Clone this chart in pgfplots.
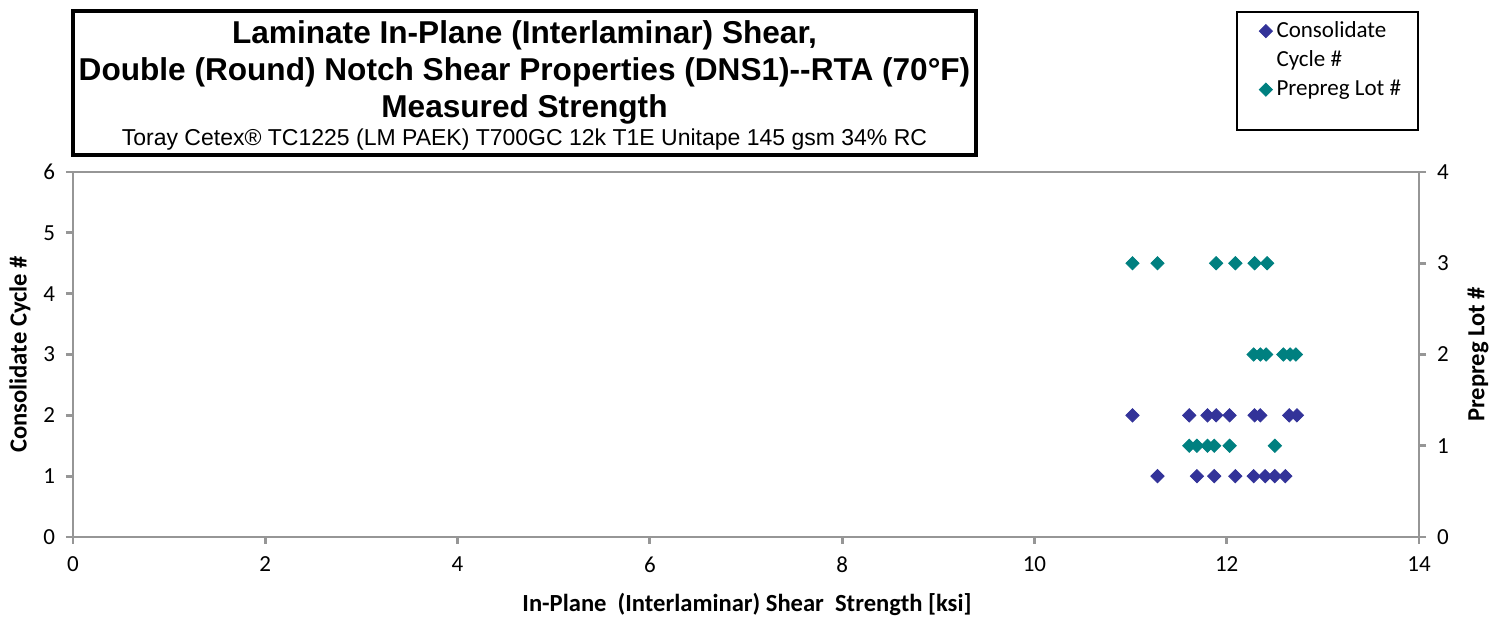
\documentclass[border=0pt]{standalone}
\usepackage{pgfplots}
\pgfplotsset{compat=1.18}
\usepackage{fontspec}
\setmainfont{Carlito}
\newfontfamily\titlefont{Liberation Sans}
\definecolor{cblue}{RGB}{51,51,153}
\definecolor{cteal}{RGB}{0,128,128}
\definecolor{axgray}{RGB}{150,150,150}
\begin{document}
\begin{tikzpicture}
\begin{scope}[shift={(-36.5pt,268.5pt)}, x=0.5pt, y=-0.5pt]
  \useasboundingbox (0,0) rectangle (1496,626);
  \draw[line width=2pt, black] (73,11) rectangle (976,155);
  \node[anchor=base, inner sep=0pt, font=\titlefont\bfseries\fontsize{15.8}{18}\selectfont] at (524.5,44) {Laminate In-Plane (Interlaminar) Shear,};
  \node[anchor=base, inner sep=0pt, font=\titlefont\bfseries\fontsize{15.8}{18}\selectfont] at (524.5,81) {Double (Round) Notch Shear Properties (DNS1)--RTA (70°F)};
  \node[anchor=base, inner sep=0pt, font=\titlefont\bfseries\fontsize{15.8}{18}\selectfont] at (524.5,118) {Measured Strength};
  \node[anchor=base, inner sep=0pt, font=\titlefont\fontsize{11.5}{13}\selectfont] at (524.5,146) {Toray Cetex® TC1225 (LM PAEK) T700GC 12k T1E Unitape 145 gsm 34\% RC};
  \draw[line width=0.6pt, black] (1237,12) rectangle (1418,130);
\end{scope}
\pgfplotsset{
  dmark/.style={only marks, mark=square*, mark size=2.35pt, mark options={rotate=45}, color=#1},
  common/.style={
    scale only axis, width=673pt, height=182.5pt,
    at={(0,0)}, anchor=south west,
    xmin=0, xmax=14,
    tick align=outside, major tick length=3.5pt,
    tick style={axgray, line width=1.4pt},
    axis line style={-, axgray, line width=1.4pt},
    ticklabel style={font=\fontsize{11.5}{13}\selectfont, text=black},
    label style={font=\bfseries\fontsize{12.3}{14}\selectfont},
    /pgf/number format/assume math mode=true,
  }
}
\begin{axis}[common,
  ymin=0, ymax=6, ytick={0,...,6}, xtick={0,2,...,14},
  xtick pos=bottom, ytick pos=left,
  xticklabel style={yshift=-3pt},
  yticklabel style={xshift=-2pt},
  ylabel={Consolidate Cycle \#},
  xlabel={In-Plane\ \ (Interlaminar) Shear\ \ Strength [ksi]},
  ylabel style={at={(axis description cs:-0.0394,0.5)}, anchor=center},
  xlabel style={at={(axis description cs:0.5007,-0.186)}, anchor=center},
]
\addplot[dmark=cblue] coordinates {
(11.28,1) (11.69,1) (11.87,1) (12.09,1) (12.28,1) (12.40,1) (12.50,1) (12.61,1)
(11.02,2) (11.61,2) (11.80,2) (11.89,2) (12.03,2) (12.29,2) (12.35,2) (12.65,2) (12.73,2)
};
\end{axis}
\begin{axis}[common,
  ymin=0, ymax=4, ytick={0,...,4},
  axis x line=none, axis y line*=right,
  yticklabel style={xshift=2pt},
  ylabel={Prepreg Lot \#},
  ylabel style={at={(axis description cs:1.0438,0.5)}, anchor=center, rotate=0},
  legend style={draw=none, fill=none, at={(axis description cs:0.873,1.435)}, anchor=north west,
    font=\fontsize{11.5}{14}\selectfont, cells={anchor=west}, row sep=1.2pt,
    legend image code/.code={\draw[#1] plot coordinates {(0.2cm,0cm)};}},
]
\addlegendimage{dmark=cblue}
\addlegendentry{Consolidate}
\addlegendimage{empty legend}
\addlegendentry{Cycle \#}
\addplot[dmark=cteal] coordinates {
(11.02,3) (11.28,3) (11.89,3) (12.09,3) (12.29,3) (12.42,3)
(12.28,2) (12.35,2) (12.41,2) (12.59,2) (12.66,2) (12.72,2)
(11.61,1) (11.69,1) (11.80,1) (11.87,1) (12.03,1) (12.50,1)
};
\addlegendentry{Prepreg Lot \#}
\end{axis}
\end{tikzpicture}
\end{document}
